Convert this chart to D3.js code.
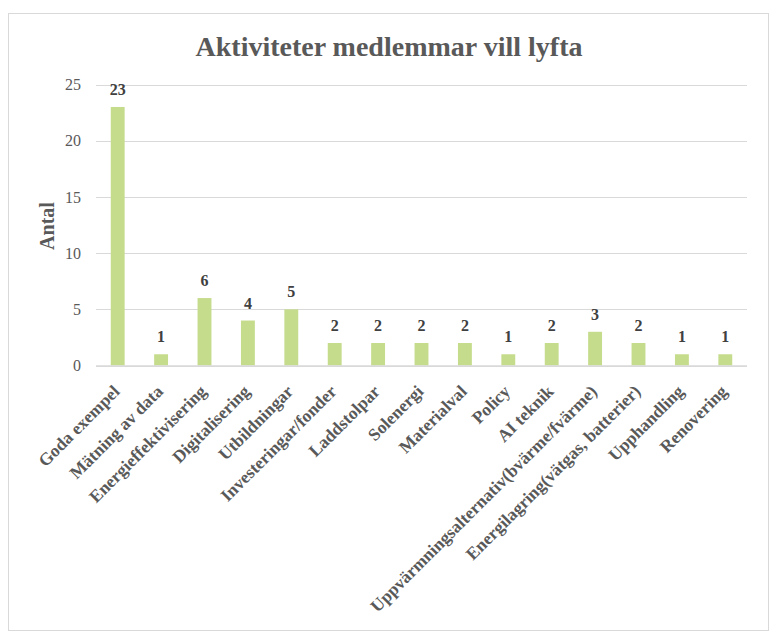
<!DOCTYPE html>
<html><head><meta charset="utf-8">
<script src="https://cdn.jsdelivr.net/npm/d3@7"></script>
<style>body{margin:0;background:#fff}</style>
</head><body>
<svg id="c" width="777" height="642"></svg>
<script>
const categories = ["Goda exempel","Mätning av data","Energieffektivisering","Digitalisering","Utbildningar","Investeringar/fonder","Laddstolpar","Solenergi","Materialval","Policy","AI teknik","Uppvärmningsalternativ(bvärme/fvärme)","Energilagring(vätgas, batterier)","Upphandling","Renovering"];
const values = [23,1,6,4,5,2,2,2,2,1,2,3,2,1,1];
const yTicks = [0,5,10,15,20,25];
const title = "Aktiviteter medlemmar vill lyfta";
const yTitle = "Antal";

const font = "'Times New Roman','Liberation Serif',serif";
const svg = d3.select("#c");
svg.append("rect").attr("x",8.5).attr("y",13.5).attr("width",760).attr("height",617)
  .attr("fill","#fff").attr("stroke","#d9d9d9").attr("stroke-width",1);

const x = d3.scaleBand().domain(categories).range([96,747]).paddingInner(0.68).paddingOuter(0.34);
const y = d3.scaleLinear().domain([0,25]).range([365.5,84.5]);

// gridlines
svg.append("g").selectAll("line").data(yTicks).join("line")
  .attr("x1",96).attr("x2",747).attr("y1",d=>Math.round(y(d))+0.5).attr("y2",d=>Math.round(y(d))+0.5)
  .attr("stroke","#d9d9d9").attr("stroke-width",1);

// y axis labels
const yAxis = d3.axisLeft(y).tickValues(yTicks).tickSize(0).tickPadding(15);
const ga = svg.append("g").attr("transform","translate(96,0)").call(yAxis);
ga.select(".domain").remove();
ga.selectAll("text").attr("font-family",font).attr("font-size",16).attr("fill","#595959");

// bars
svg.append("g").selectAll("rect").data(values).join("rect")
  .attr("x",(d,i)=>x(categories[i])).attr("width",x.bandwidth())
  .attr("y",d=>y(d)).attr("height",d=>y(0)-y(d)).attr("fill","#c5dc8c");

// data labels
svg.append("g").selectAll("text").data(values).join("text")
  .attr("x",(d,i)=>x(categories[i])+x.bandwidth()/2).attr("y",d=>y(d)-12)
  .attr("text-anchor","middle").attr("font-family",font).attr("font-size",16)
  .attr("font-weight","bold").attr("fill","#404040").text(d=>d);

// x axis
const xAxis = d3.axisBottom(x).tickSize(0).tickPadding(0);
const gx = svg.append("g").attr("transform","translate(0,365.5)").call(xAxis);
gx.select(".domain").remove();
gx.selectAll("text")
  .attr("font-family",font).attr("font-size",17.5).attr("font-weight","bold").attr("fill","#595959")
  .attr("text-anchor","end").attr("y",0).attr("dy",0)
  .attr("transform","translate(3,27) rotate(-45)");
svg.append("line").attr("x1",96).attr("x2",747).attr("y1",366).attr("y2",366)
  .attr("stroke","#d9d9d9").attr("stroke-width",1.5);

// title
svg.append("text").attr("x",389).attr("y",56).attr("text-anchor","middle")
  .attr("font-family",font).attr("font-size",28).attr("font-weight","bold").attr("fill","#595959").text(title);

// y title
svg.append("text").attr("transform","translate(54,226) rotate(-90)").attr("text-anchor","middle")
  .attr("font-family",font).attr("font-size",20).attr("font-weight","bold").attr("fill","#595959").text(yTitle);
</script>
</body></html>
